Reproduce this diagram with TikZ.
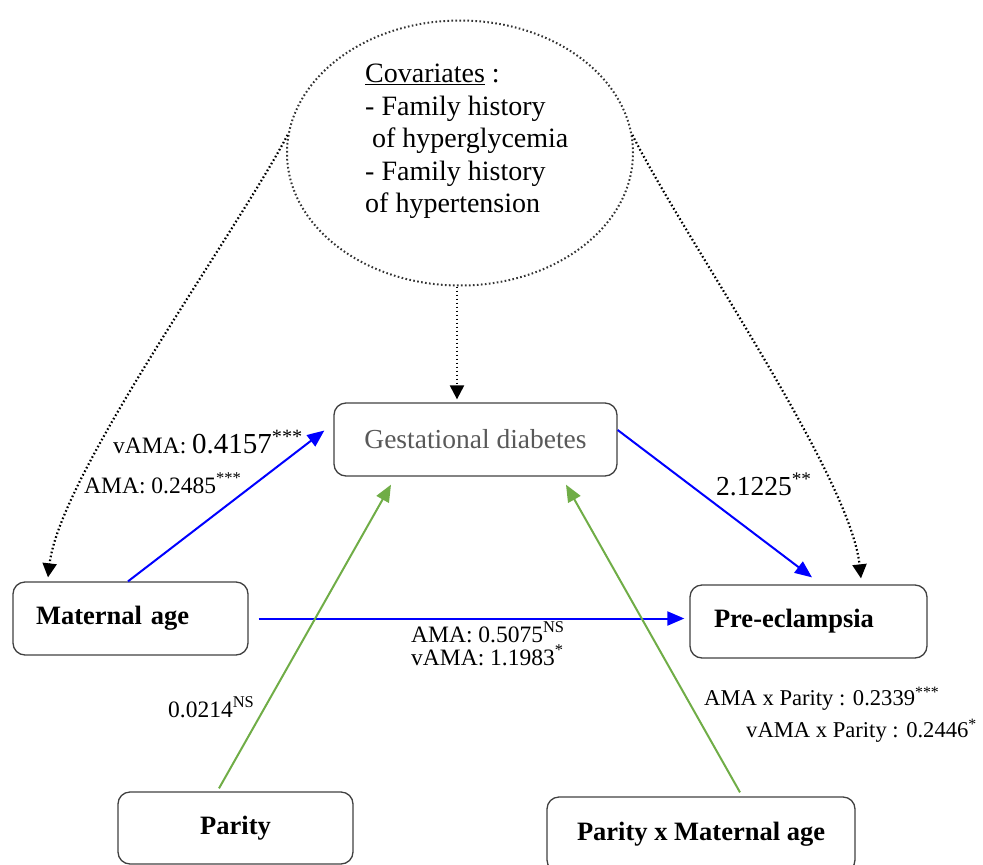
\documentclass[tikz,border=0pt]{standalone}
\usepackage{fontspec}
\setmainfont{Liberation Serif}
\usetikzlibrary{shapes.geometric,arrows.meta}
\definecolor{gdgrey}{RGB}{89,89,89}
\definecolor{boxline}{RGB}{64,64,64}
\definecolor{arrblue}{RGB}{0,0,255}
\definecolor{arrgreen}{RGB}{112,173,71}
\newcommand\sig[1]{\textsuperscript{#1}}
\begin{document}
\begin{tikzpicture}[x=1pt,y=-1pt,
 box/.style={draw=boxline, line width=1.3pt, rounded corners=12pt, inner sep=0pt,
   font=\fontsize{26.5}{30}\selectfont\bfseries},
 lbl/.style={anchor=base west, inner sep=0pt, font=\fontsize{23.5}{26}\selectfont},
 bluearr/.style={draw=arrblue, line width=2pt, -{Triangle[length=17pt,width=14pt]}},
 greenarr/.style={draw=arrgreen, line width=2pt, -{Triangle[length=17pt,width=14pt]}},
 dotarr/.style={draw=black, line width=2.2pt, dash pattern=on 1.6pt off 2.4pt,
   -{Triangle[length=14pt,width=14pt]}},
]
\useasboundingbox (0,0) rectangle (983,865);
\clip (0,0) rectangle (983,865);

% covariates ellipse
\node[ellipse, draw=black!80, line width=2pt, dash pattern=on 1.6pt off 2.4pt,
  minimum width=346pt, minimum height=265pt, inner sep=0pt] (cov) at (460,153) {};
\node[anchor=north west, align=left, inner sep=0pt,
  font=\fontsize{28}{32.5}\selectfont] (covtxt) at (365,64)
  {\underline{Covariates} :\\- Family history\\\hspace{7pt}of hyperglycemia\\- Family history\\of hypertension};

% boxes
\node[box, minimum width=283pt, minimum height=73pt, text=gdgrey,
  font=\fontsize{27.5}{30}\selectfont] (gd) at (475.5,439.5) {Gestational diabetes};
\node[box, minimum height=73pt, text width=189pt, inner xsep=23pt, align=left] (ma) at (130.5,618.5) {Maternal age};
\node[box, minimum height=73pt, text width=189pt, inner xsep=24pt, align=left] (pe) at (808.5,621.5) {Pre-eclampsia};
\node[box, minimum width=235pt, minimum height=72pt] (par) at (235.5,828) {Parity};
\node[box, minimum width=308pt, minimum height=75pt] (pxma) at (701,834.5) {Parity x Maternal age};

% dotted covariate arrows
\draw[dotarr] ([xshift=-3pt]cov.south) -- ([xshift=-18.5pt,yshift=3pt]gd.north);
\draw[dotarr] (cov.174) .. controls (235,235) and (60,475) .. ([xshift=-82.5pt,yshift=4pt]ma.north);
\draw[dotarr] (cov.6) .. controls (684,238) and (850,475) .. ([xshift=52.5pt,yshift=6pt]pe.north);

% blue arrows
\draw[bluearr] ([xshift=-2.5pt]ma.north) -- ([xshift=-9pt,yshift=9pt]gd.west);
\draw[bluearr] ([yshift=9.5pt]gd.east) -- ([xshift=3.5pt,yshift=7pt]pe.north);
\draw[bluearr] ([xshift=10pt]ma.east) -- ([xshift=-5pt,yshift=3pt]pe.west);

% green arrows
\draw[greenarr] ([xshift=-16.5pt,yshift=3pt]par.north) -- ([xshift=-84.5pt,yshift=-8pt]gd.south);
\draw[greenarr] ([xshift=39pt,yshift=4pt]pxma.north) -- ([xshift=90.5pt,yshift=-8pt]gd.south);

% labels
\node[lbl] (l1) at (113,453) {vAMA: {\fontsize{29}{30}\selectfont 0.4157\sig{***}}};
\node[lbl] (l2) at (84,493) {AMA: 0.2485\sig{***}};
\node[lbl] (l3) at (716,495) {{\fontsize{27.5}{30}\selectfont 2.1225\sig{**}}};
\node[lbl] (l4) at (411,642) {AMA: 0.5075\sig{NS}};
\node[lbl] (l5) at (411,665) {vAMA: 1.1983\sig{*}};
\node[lbl] (l6) at (168,717) {0.0214\sig{NS}};
\node[lbl, font=\fontsize{22.6}{26}\selectfont] (l7) at (704,705) {AMA x Parity : 0.2339\sig{***}};
\node[lbl, font=\fontsize{22.6}{26}\selectfont] (l8) at (746,737) {vAMA x Parity : 0.2446\sig{*}};
\end{tikzpicture}
\end{document}
